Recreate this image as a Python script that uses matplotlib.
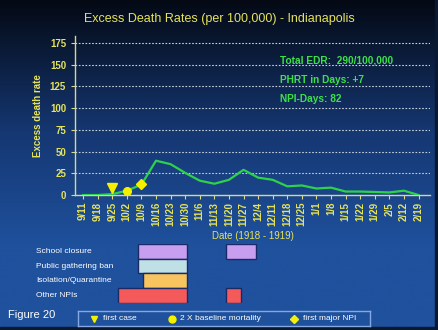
import numpy as np
import matplotlib.pyplot as plt
from matplotlib.colors import LinearSegmentedColormap
from matplotlib.patches import Rectangle

plt.rcParams["font.family"] = ["Liberation Sans", "DejaVu Sans"]

# weekly data
weeks = ["9/11", "9/18", "9/25", "10/2", "10/9", "10/16", "10/23", "10/30",
         "11/6", "11/13", "11/20", "11/27", "12/4", "12/11", "12/18", "12/25",
         "1/1", "1/8", "1/15", "1/22", "1/29", "2/5", "2/12", "2/19"]
edr = [0, 0, 1, 5, 12, 39.5, 35.5, 25.5, 16.5, 13, 17.5, 29, 20, 17.5,
       10, 11, 7.5, 8.5, 4, 4, 3.5, 3, 5, 0]

# event markers (week index, value)
event_labels = ["first case", "2 X baseline mortality", "first major NPI"]
event_x = [2, 3, 4]
event_y = [8, 5, 12.5]
event_markers = ["v", "o", "D"]

# NPI periods in weeks from 9/11
npi_rows = ["School closure", "Public gathering ban", "Isolation/Quarantine", "Other NPIs"]
npi_start = [[3.77, 9.8], [3.77], [4.1], [2.4, 9.8]]
npi_end = [[7.1, 11.85], [7.1], [7.1], [7.1, 10.8]]
npi_colors = ["#c79ef0", "#bfe0e4", "#f8c460", "#f45a5a"]

notes = ["Total EDR:  290/100,000", "PHRT in Days: +7", "NPI-Days: 82"]

yellow = "#e6e35a"
green = "#3ee04a"
marker_size = {"v": 7, "o": 5.5, "D": 5}

fig = plt.figure(figsize=(4.39, 3.30), dpi=100)

# slide background
bg = fig.add_axes([0, 0, 1, 1], zorder=-10)
cmap = LinearSegmentedColormap.from_list(
    "slide", [(0, "#1f519d"), (0.25, "#1f519d"), (0.6, "#153772"), (1, "#040914")])
bg.imshow(np.linspace(0, 1, 256).reshape(-1, 1), aspect="auto", cmap=cmap,
          origin="lower", extent=[0, 1, 0, 1])
bg.add_patch(Rectangle((0.991, 0), 0.009, 1, color="#0a1830"))
bg.add_patch(Rectangle((0, 0), 1, 0.009, color="#0a1830"))
bg.set_xlim(0, 1)
bg.set_ylim(0, 1)
bg.axis("off")

xmin, xmax = -0.55, 23.77

ax = fig.add_axes([0.171, 0.409, 0.808, 0.482])
ax.set_facecolor("none")
ax.plot(range(len(weeks)), edr, color="#2ed24a", linewidth=1.6, zorder=3)
for xm, ym, mk in zip(event_x, event_y, event_markers):
    ax.plot(xm, ym, marker=mk, color="#f5f000", ms=marker_size[mk], zorder=4)
ax.set_xlim(xmin, xmax)
ax.set_ylim(0, 183)
ax.set_yticks(range(0, 176, 25))
ax.set_xticks(range(len(weeks)))
ax.set_xticklabels(weeks, rotation=90)
for y in range(25, 176, 25):
    ax.axhline(y, color="#c8d0dc", linestyle=(0, (1.5, 1.5)), linewidth=0.8, zorder=1)
for s in ["top", "right"]:
    ax.spines[s].set_visible(False)
for s in ["left", "bottom"]:
    ax.spines[s].set_color("#d8d88a")
    ax.spines[s].set_linewidth(1)
ax.tick_params(colors="#d8d88a", labelcolor=yellow, labelsize=7, length=3, width=0.8)
for lab in ax.get_xticklabels() + ax.get_yticklabels():
    lab.set_fontweight("bold")
ax.tick_params(axis="x", labelsize=7, pad=2)
ax.set_ylabel("Excess death rate", color=yellow, fontsize=7, fontweight="bold", labelpad=5)

for i, t in enumerate(notes):
    fig.text(0.638, 0.818 - i * 0.059, t, color=green, fontsize=7.3, fontweight="bold", va="center")

fig.text(0.5, 0.942, "Excess Death Rates (per 100,000) - Indianapolis", color=yellow,
         fontsize=9, ha="center", va="center")
fig.text(0.577, 0.285, "Date (1918 - 1919)", color=yellow, fontsize=7, ha="center", va="center")

# NPI timeline
gx = fig.add_axes([0.171, 0.082, 0.808, 0.179])
gx.set_facecolor("none")
for r in range(len(npi_rows)):
    for s, e in zip(npi_start[r], npi_end[r]):
        gx.barh(r, e - s, left=s, height=1, color=npi_colors[r],
                edgecolor="#1a2a66", linewidth=1)
gx.set_xlim(xmin, xmax)
gx.set_ylim(len(npi_rows) - 0.5, -0.5)
gx.axis("off")
for r, name in enumerate(npi_rows):
    gx.text(-0.11, r, name, transform=gx.get_yaxis_transform(), ha="left", va="center",
            color="white", fontsize=6)

fig.text(0.018, 0.045, "Figure 20", color="white", fontsize=8, va="center")

# legend box
lg = fig.add_axes([0.178, 0.012, 0.665, 0.045])
lg.set_facecolor("none")
lg.set_xlim(0, 1)
lg.set_ylim(0, 1)
lg.set_xticks([])
lg.set_yticks([])
for s in lg.spines.values():
    s.set_color("#86a8e0")
    s.set_linewidth(1)
leg_x = [0.055, 0.32, 0.74]
for xm, mk, lab in zip(leg_x, event_markers, event_labels):
    lg.plot(xm, 0.5, marker=mk, color="#f5f000", ms=5 if mk != "D" else 4, clip_on=False)
    lg.text(xm + 0.03, 0.5, lab, color="white", fontsize=6, va="center")

fig.savefig("out.png", dpi=100)
